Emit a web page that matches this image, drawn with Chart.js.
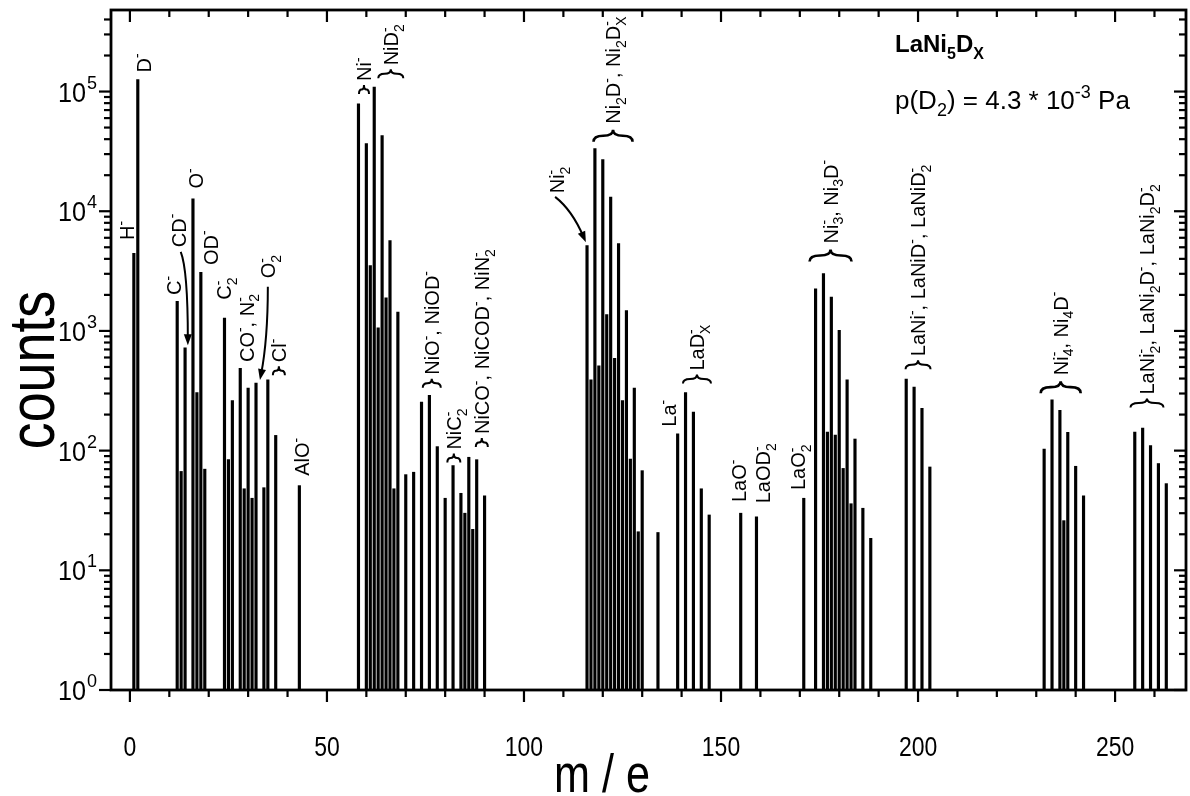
<!DOCTYPE html>
<html>
<head>
<meta charset="utf-8">
<script src="https://cdn.jsdelivr.net/npm/chart.js@4.4.0/dist/chart.umd.min.js"></script>
<style>
  html, body { margin: 0; padding: 0; background: #fff; }
</style>
</head>
<body>
<canvas id="spektrum" width="1190" height="796"></canvas>
<script>
// m/e positions and counts
const masses = [1, 2, 12, 13, 14, 16, 17, 18, 19, 24, 25, 26, 28, 29, 30, 31, 32, 34, 35, 37, 43,
  58, 60, 61, 62, 63, 64, 65, 66, 67, 68, 70, 72, 74, 76, 78, 80, 82, 84, 85, 86, 87, 88, 90,
  116, 117, 118, 119, 120, 121, 122, 123, 124, 125, 126, 127, 128, 129, 130, 134,
  139, 141, 143, 145, 147, 155, 159, 171,
  174, 176, 177, 178, 179, 180, 181, 182, 183, 184, 186, 188,
  197, 199, 201, 203, 232, 234, 236, 237, 238, 240, 242, 255, 257, 259, 261, 263];
const counts = [4450, 126000, 1770, 67, 724, 12700, 306, 3080, 70, 1280, 84, 262, 486, 48, 333, 40, 367, 49, 390, 134, 51,
  79000, 36700, 3510, 109000, 1060, 42900, 1890, 5680, 48, 1440, 63, 66, 254, 289, 108, 40, 75, 44, 30, 88, 22, 84, 42,
  5160, 391, 33400, 512, 27000, 1370, 13100, 589, 5360, 262, 1480, 85, 333, 21, 68, 20.7,
  138, 306, 210, 48, 29, 30, 28, 40,
  2250, 3010, 143, 1920, 135, 1010, 71, 391, 36, 125, 33, 18.5,
  396, 340, 226, 73, 103, 266, 217, 26, 142, 74, 42, 143, 154, 110, 78, 53];

const xTickLabels = ["0", "50", "100", "150", "200", "250"];
const yTickLabels = ["0", "1", "2", "3", "4", "5"]; // exponents of 10

// peak assignments: text, m/e of the label, log10(counts) where it starts, brace width
const annText = ["H^-", "D^-", "C^-", "CD^-", "O^-", "OD^-", "C_2^-", "CO^-, N_2^-", "O_2^-", "Cl^-", "AlO^-",
  "Ni^-", "NiD_2^-", "NiO^-, NiOD^-", "NiC_2^-", "NiCO^-, NiCOD^-, NiN_2^-",
  "Ni_2^-", "Ni_2D^-, Ni_2D_X^-", "La^-", "LaD_X^-", "LaO^-", "LaOD_2^-", "LaO_2^-",
  "Ni_3^-, Ni_3D^-", "LaNi^-, LaNiD^-, LaNiD_2^-", "Ni_4^-, Ni_4D^-", "LaNi_2^-, LaNi_2D^-, LaNi_2D_2^-"];
const annMass = [-0.8, 3.4, 11.2, 12.3, 16.7, 20.5, 23.9, 29.6, 35.0, 37.8, 43.7,
  59.4, 66.2, 76.6, 82.2, 89.3,
  108.4, 122.6, 136.8, 143.9, 154.6, 160.7, 169.5,
  177.8, 200.0, 236.2, 258.1];
const annLog = [3.76, 5.16, 3.30, 3.70, 4.19, 3.55, 3.26, 2.74, 3.44, 2.63, 1.79,
  4.98, 5.11, 2.525, 1.90, 2.03,
  4.15, 4.58, 2.20, 2.56, 1.57, 1.56, 1.67,
  3.58, 2.68, 2.48, 2.36];
const annBrace = [0, 0, 0, 0, 0, 0, 0, 0, 0, 12, 0,
  10, 25, 18, 13, 12,
  0, 39, 0, 28, 0, 0, 0,
  42, 25, 40, 33];

// curved arrows: start, control, end as [m/e, log10(counts)]
const arrows = [
  [[12.9, 3.66], [14.7, 3.51], [14.7, 2.88]],
  [[35.0, 3.37], [35.0, 2.93], [33.0, 2.59]],
  [[107.9, 4.12], [112.2, 4.01], [115.7, 3.74]]
];

const FONT = "'Liberation Sans', Arial, Helvetica, sans-serif";
const ANN = 20;

function parseRich(s) {
  const out = [];
  let i = 0;
  while (i < s.length) {
    const c = s[i];
    if (c === "_" || c === "^") {
      let t;
      if (s[i + 1] === "{") {
        const j = s.indexOf("}", i + 2);
        t = s.slice(i + 2, j);
        i = j + 1;
      } else {
        t = s[i + 1];
        i += 2;
      }
      out.push({ t: t, k: c === "_" ? "sub" : "sup" });
    } else {
      let j = i;
      while (j < s.length && s[j] !== "_" && s[j] !== "^") j++;
      out.push({ t: s.slice(i, j), k: "n" });
      i = j;
    }
  }
  return out;
}

// sub- and superscripts that follow each other are stacked
function drawRich(ctx, s, x, y, size, weight, draw = true) {
  let cx = x, subStart = null;
  for (const p of parseRich(s)) {
    if (p.k === "n") {
      ctx.font = weight + " " + size + "px " + FONT;
      if (draw) ctx.fillText(p.t, cx, y);
      cx += ctx.measureText(p.t).width;
      subStart = null;
    } else {
      ctx.font = weight + " " + Math.round(size * 0.68) + "px " + FONT;
      const w = ctx.measureText(p.t).width;
      if (p.k === "sub") {
        if (draw) ctx.fillText(p.t, cx, y + size * 0.28);
        subStart = cx;
        cx += w;
      } else {
        const sx = subStart !== null ? subStart : cx;
        if (draw) ctx.fillText(p.t, sx, y - size * 0.42);
        cx = Math.max(cx, sx + w);
        subStart = null;
      }
    }
  }
  return cx - x;
}

function brace(ctx, cx, yb, w, h) {
  const l = cx - w / 2, r = cx + w / 2, ym = yb - h / 2, top = yb - h;
  const q = Math.min(w / 4, h);
  ctx.beginPath();
  ctx.moveTo(l, yb);
  ctx.quadraticCurveTo(l, ym, l + q, ym);
  ctx.lineTo(cx - q, ym);
  ctx.quadraticCurveTo(cx, ym, cx, top);
  ctx.quadraticCurveTo(cx, ym, cx + q, ym);
  ctx.lineTo(r - q, ym);
  ctx.quadraticCurveTo(r, ym, r, yb);
  ctx.stroke();
}

function narrow(ctx, text, x, y, size, sx, align) {
  ctx.save();
  ctx.translate(x, y);
  ctx.scale(sx, 1);
  ctx.font = size + "px " + FONT;
  ctx.textAlign = align;
  ctx.fillText(text, 0, 0);
  ctx.restore();
}

const rahmen = {
  id: "rahmen",
  afterDatasetsDraw(chart) {
    const { ctx, chartArea: a } = chart;
    const sx = chart.scales.x, sy = chart.scales.y;
    const line = (x1, y1, x2, y2) => { ctx.beginPath(); ctx.moveTo(x1, y1); ctx.lineTo(x2, y2); ctx.stroke(); };
    ctx.save();
    ctx.strokeStyle = "#000";
    ctx.fillStyle = "#000";
    ctx.textBaseline = "alphabetic";

    // frame
    ctx.lineWidth = 2.8;
    ctx.strokeRect(a.left, a.top, a.right - a.left, a.bottom - a.top);

    // x ticks: out at the bottom, in at the top
    ctx.lineWidth = 2.2;
    for (let v = 0; v <= sx.max; v += 10) {
      const px = sx.getPixelForValue(v);
      const len = v % 50 === 0 ? 12 : 7;
      line(px, a.bottom, px, a.bottom + len);
      line(px, a.top, px, a.top + len);
    }
    xTickLabels.forEach(t => {
      narrow(ctx, t, sx.getPixelForValue(Number(t)), 756, 28, 0.82, "center");
    });

    // y ticks: out on the left, in on the right
    for (let d = 0; d <= 5; d++) {
      for (let k = 1; k <= 9; k++) {
        const v = k * Math.pow(10, d);
        if (v > sy.max) break;
        const py = sy.getPixelForValue(v);
        const len = k === 1 ? 12 : 7;
        line(a.left - len, py, a.left, py);
        line(a.right - len, py, a.right, py);
      }
    }
    yTickLabels.forEach(e => {
      const py = sy.getPixelForValue(Math.pow(10, Number(e)));
      ctx.font = "18px " + FONT;
      ctx.textAlign = "right";
      ctx.fillText(e, 97, py - 3);
      const w = ctx.measureText(e).width;
      narrow(ctx, "10", 96 - w, py + 10, 28, 0.9, "right");
    });

    // axis titles
    narrow(ctx, "m / e", 602, 792, 54, 0.8, "center");
    ctx.save();
    ctx.translate(54, 370);
    ctx.rotate(-Math.PI / 2);
    narrow(ctx, "counts", 0, 0, 64, 0.84, "center");
    ctx.restore();

    // peak labels
    ctx.textAlign = "left";
    for (let i = 0; i < annText.length; i++) {
      const px = sx.getPixelForValue(annMass[i]);
      let py = sy.getPixelForValue(Math.pow(10, annLog[i]));
      const bw = annBrace[i];
      if (bw) {
        const big = bw >= 35;
        const h = big ? 12 : 9;
        ctx.lineWidth = big ? 2.6 : 2;
        brace(ctx, px, py, bw, h);
        py -= h + (big ? 6 : 4);
      }
      ctx.save();
      ctx.translate(px, py);
      ctx.rotate(-Math.PI / 2);
      drawRich(ctx, annText[i], 0, 0.36 * ANN, ANN, "normal");
      ctx.restore();
    }

    // arrows
    ctx.lineWidth = 2;
    arrows.forEach(ar => {
      const p = ar.map(q => [sx.getPixelForValue(q[0]), sy.getPixelForValue(Math.pow(10, q[1]))]);
      const ang = Math.atan2(p[2][1] - p[1][1], p[2][0] - p[1][0]);
      const L = 11, W = 4;
      const ex = p[2][0] - 6 * Math.cos(ang), ey = p[2][1] - 6 * Math.sin(ang);
      ctx.beginPath();
      ctx.moveTo(p[0][0], p[0][1]);
      ctx.quadraticCurveTo(p[1][0], p[1][1], ex, ey);
      ctx.stroke();
      ctx.beginPath();
      ctx.moveTo(p[2][0], p[2][1]);
      ctx.lineTo(p[2][0] - L * Math.cos(ang) + W * Math.sin(ang), p[2][1] - L * Math.sin(ang) - W * Math.cos(ang));
      ctx.lineTo(p[2][0] - L * Math.cos(ang) - W * Math.sin(ang), p[2][1] - L * Math.sin(ang) + W * Math.cos(ang));
      ctx.closePath();
      ctx.fill();
    });

    // sample and pressure
    drawRich(ctx, "LaNi_5D_X", 895, 52, 24, "bold");
    drawRich(ctx, "p(D_2) = 4.3 * 10^{-3} Pa", 895, 109, 26, "normal");

    ctx.restore();
  }
};

new Chart(document.getElementById("spektrum"), {
  type: "bar",
  data: {
    datasets: [{
      data: masses.map((m, i) => ({ x: m, y: counts[i] })),
      backgroundColor: "#000",
      borderWidth: 0,
      barThickness: 2.5
    }]
  },
  options: {
    responsive: false,
    animation: false,
    events: [],
    layout: { padding: { top: 10, right: 4, left: 0, bottom: 0 } },
    plugins: { legend: { display: false }, tooltip: { enabled: false } },
    scales: {
      x: {
        type: "linear", min: -4.8, max: 268, offset: false,
        grid: { display: false }, border: { display: false }, ticks: { display: false },
        afterFit(s) { s.height = 106; }
      },
      y: {
        type: "logarithmic", min: 1, max: 4.8e5,
        grid: { display: false }, border: { display: false }, ticks: { display: false },
        afterFit(s) { s.width = 111; }
      }
    }
  },
  plugins: [rahmen]
});
</script>
</body>
</html>
